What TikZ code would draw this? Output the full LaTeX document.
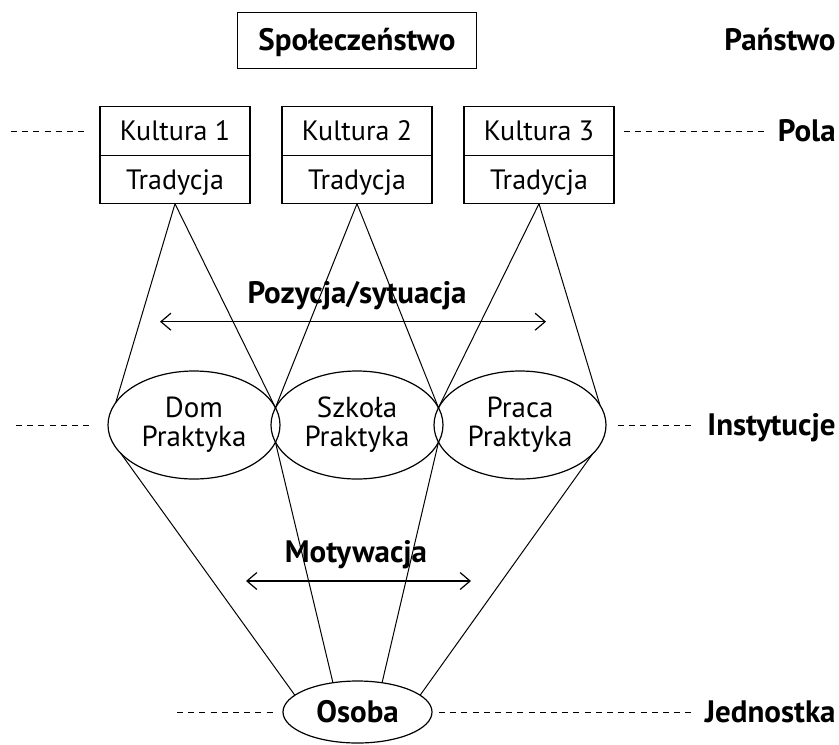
\documentclass[tikz,border=0pt]{standalone}
\usepackage{fontspec}
\setmainfont{PT Sans}
\usepackage{tikz}
\usetikzlibrary{arrows.meta, positioning, calc, shapes.geometric}

\begin{document}
\begin{tikzpicture}[
  x=0.5pt, y=-0.5pt,
  every node/.style={inner sep=0pt},
  reg/.style={font=\fontsize{14}{14.5}\selectfont},
  bold/.style={font=\fontsize{15.5}{16.5}\selectfont\bfseries},
  capbox/.style={text height=10.6pt, text depth=0pt},
  cell/.style={draw, line width=0.6pt, outer sep=0pt, reg, minimum width=75pt, minimum height=24.25pt, text height=12.3pt, text depth=2.5pt},
  place/.style={ellipse, draw, line width=0.6pt, outer sep=0pt, reg, font=\fontsize{14.5}{14.5}\selectfont, align=center, minimum width=86pt, minimum height=54pt},
  tag/.style={bold, capbox, anchor=east},
  lead/.style={line width=0.5pt, dash pattern=on 3pt off 2.6pt},
  link/.style={line width=0.5pt},
  twoway/.style={<->, line width=0.6pt},
  >={Straight Barb[length=5pt, width=8.5pt]}
]
\useasboundingbox (0,0) rectangle (839,744);
\coordinate (rim) at (836,0);

\node[draw, line width=0.6pt, bold, capbox, minimum width=119.5pt, minimum height=28pt] (spol) at (357,40.3) {Społeczeństwo};

\node[cell] (kul2) at (357,131) {Kultura 2};
\node[cell, below=0pt of kul2] (tra2) {Tradycja};
\node[cell, left=16pt of kul2] (kul1) {Kultura 1};
\node[cell, below=0pt of kul1] (tra1) {Tradycja};
\node[cell, right=16pt of kul2] (kul3) {Kultura 3};
\node[cell, below=0pt of kul3] (tra3) {Tradycja};

\node[place] (szk) at (357,425) {Szkoła\\Praktyka};
\node[place, left=-4.5pt of szk] (dom) {Dom\\Praktyka};
\node[place, right=-4.5pt of szk] (pra) {Praca\\Praktyka};

\node[ellipse, draw, line width=0.6pt, outer sep=0pt, bold, capbox, minimum width=74.5pt, minimum height=31pt] (osoba) at (357.5,712) {Osoba};

\node[tag] (panstwo) at (spol.center -| rim) {Państwo};
\node[tag] (pola) at (kul1.center -| rim) {Pola};
\node[tag] (instytucje) at (pra.center -| rim) {Instytucje};
\node[tag] (jednostka) at (osoba.center -| rim) {Jednostka};

\node[bold, anchor=base] (poz) at (357,303.3) {Pozycja/sytuacja};
\node[bold, anchor=base] (mot) at (356,562) {Motywacja};
\coordinate (pozL) at (160,321.7);
\coordinate (pozR) at (546,321.7);
\coordinate (motL) at (246,581);
\coordinate (motR) at (471,581);
\draw[twoway] (pozL) -- (pozR);
\draw[twoway] (motL) -- (motR);

\coordinate (ds-up) at (dom.12);
\coordinate (ds-dn) at (dom.-12);
\coordinate (sp-up) at (szk.12);
\coordinate (sp-dn) at (szk.-12);

\draw[link] (tra1.south) -- (dom.164);
\draw[link] (tra1.south) -- (ds-up);
\draw[link] (tra2.south) -- (ds-up);
\draw[link] (tra2.south) -- (sp-up);
\draw[link] (tra3.south) -- (sp-up);
\draw[link] (tra3.south) -- (pra.14);
\draw[link] (dom.201) -- (osoba.165);
\draw[link] (ds-dn) -- (osoba.130);
\draw[link] (sp-dn) -- (osoba.50);
\draw[link] (pra.-22) -- (osoba.15);

\draw[lead] ([xshift=-44.5pt]kul1.west) -- ([xshift=-6pt]kul1.west);
\draw[lead] ([xshift=5pt]kul3.east) -- ($(kul3.east -| pola.west)+(-6.5pt,0)$);
\draw[lead] ([xshift=-46pt]dom.west) -- ([xshift=-8pt]dom.west);
\draw[lead] ([xshift=6pt]pra.east) -- ($(pra.east -| instytucje.west)+(-6pt,0)$);
\draw[lead] ([xshift=-53pt]osoba.west) -- ([xshift=-5pt]osoba.west);
\draw[lead] ([xshift=3.5pt]osoba.east) -- ($(osoba.east -| jednostka.west)+(-6.5pt,0)$);
\end{tikzpicture}
\end{document}
